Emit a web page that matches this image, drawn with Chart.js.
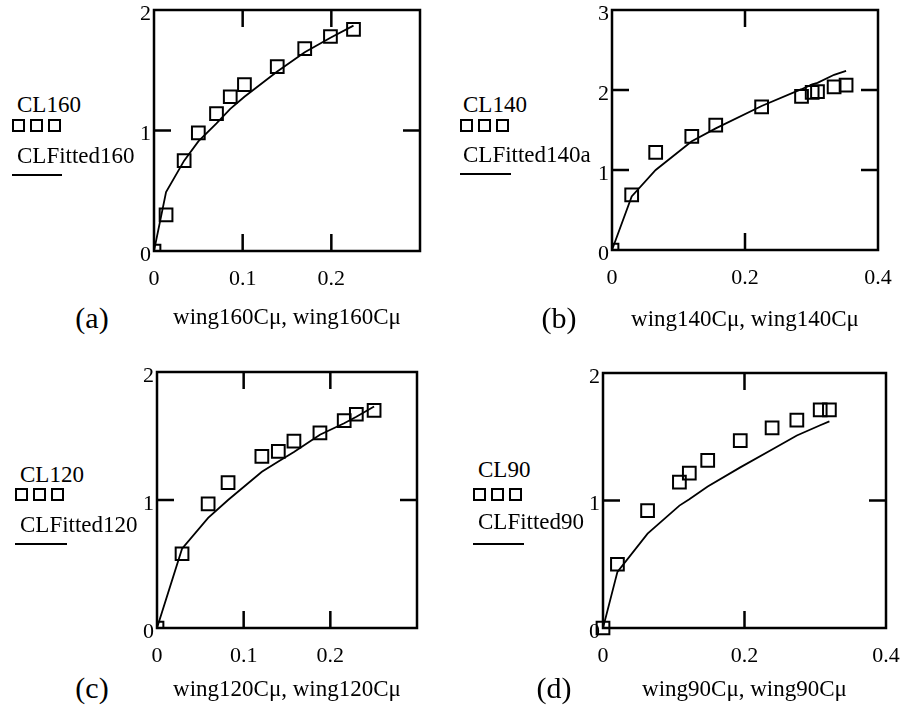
<!DOCTYPE html>
<html>
<head>
<meta charset="utf-8">
<script src="https://cdn.jsdelivr.net/npm/chart.js@4.4.1/dist/chart.umd.min.js"></script>
<style>
  html, body { margin: 0; padding: 0; background: #fff; }
  body { width: 909px; height: 708px; position: relative; overflow: hidden; font-family: "Liberation Serif", "Times New Roman", serif; color: #000; }
  canvas { position: absolute; }
  .txt { position: absolute; font-size: 23px; line-height: 23px; white-space: nowrap; }
  .lbl { position: absolute; font-size: 30px; line-height: 30px; white-space: nowrap; transform: translate(-50%, -50%); }
  .sq { position: absolute; width: 9px; height: 9px; border: 2px solid #000; }
  .ln { position: absolute; height: 0; border-top: 2px solid #000; }
</style>
</head>
<body>
<script>
// ---------- DATA ----------
// (a)
const wing160Cmu  = [0, 0.0136, 0.034, 0.050, 0.0705, 0.086, 0.102, 0.139, 0.170, 0.199, 0.225];
const CL160       = [0, 0.30, 0.75, 0.98, 1.14, 1.28, 1.38, 1.53, 1.68, 1.78, 1.84];
const CLFitted160 = [0, 0.49, 0.75, 0.91, 1.06, 1.18, 1.28, 1.49, 1.65, 1.77, 1.87];
// (b)
const wing140Cmu   = [0, 0.0296, 0.0657, 0.120, 0.156, 0.225, 0.285, 0.301, 0.309, 0.334, 0.352];
const CL140        = [0, 0.69, 1.22, 1.42, 1.56, 1.79, 1.92, 1.97, 1.98, 2.04, 2.06];
const CLFitted140a = [0, 0.67, 1.00, 1.36, 1.52, 1.80, 2.01, 2.07, 2.09, 2.19, 2.24];
// (c)
const wing120Cmu  = [0, 0.0289, 0.059, 0.082, 0.121, 0.140, 0.158, 0.188, 0.216, 0.230, 0.2505];
const CL120       = [0, 0.58, 0.97, 1.135, 1.34, 1.38, 1.46, 1.525, 1.62, 1.67, 1.70];
const CLFitted120 = [0, 0.62, 0.86, 1.00, 1.22, 1.30, 1.375, 1.51, 1.60, 1.65, 1.73];
// (d)
const wing90Cmu  = [0, 0.0204, 0.063, 0.108, 0.122, 0.148, 0.194, 0.239, 0.274, 0.307, 0.320];
const CL90       = [0, 0.50, 0.92, 1.145, 1.215, 1.315, 1.47, 1.57, 1.63, 1.71, 1.71];
const CLFitted90 = [0, 0.44, 0.74, 0.96, 1.01, 1.11, 1.26, 1.40, 1.51, 1.59, 1.62];

// axis tick values
const xTicksA = [0, 0.1, 0.2];  const yTicksA = [0, 1, 2];
const xTicksB = [0, 0.2, 0.4];  const yTicksB = [0, 1, 2, 3];
const xTicksC = [0, 0.1, 0.2];  const yTicksC = [0, 1, 2];
const xTicksD = [0, 0.2, 0.4];  const yTicksD = [0, 1, 2];

const xTitleA = 'wing160C\u03bc, wing160C\u03bc';
const xTitleB = 'wing140C\u03bc, wing140C\u03bc';
const xTitleC = 'wing120C\u03bc, wing120C\u03bc';
const xTitleD = 'wing90C\u03bc, wing90C\u03bc';

// ---------- RENDER ----------
Chart.defaults.font.family = '"Liberation Serif", "Times New Roman", serif';
Chart.defaults.font.size = 22;
Chart.defaults.color = '#000';

const frameTicks = {
  id: 'frameTicks',
  afterDatasetsDraw(chart, args, opts) {
    const {ctx, chartArea: a, scales: {x, y}} = chart;
    ctx.save();
    ctx.strokeStyle = '#000';
    ctx.lineWidth = 2.5;
    ctx.strokeRect(a.left, a.top, a.right - a.left, a.bottom - a.top);
    const L = 17;
    ctx.beginPath();
    (opts.xInner || []).forEach(v => {
      const px = x.getPixelForValue(v);
      ctx.moveTo(px, a.bottom); ctx.lineTo(px, a.bottom - L);
      ctx.moveTo(px, a.top); ctx.lineTo(px, a.top + L);
    });
    (opts.yInner || []).forEach(v => {
      const py = y.getPixelForValue(v);
      ctx.moveTo(a.left, py); ctx.lineTo(a.left + L, py);
      ctx.moveTo(a.right, py); ctx.lineTo(a.right - L, py);
    });
    ctx.stroke();
    ctx.restore();
  }
};

function makePanel(p) {
  const padL = 10, padT = 20, padR = 32, padB = 4, yW = 30;
  const left = p.L - padL - yW;
  const top = p.T - padT;
  const w = p.R - left + padR;
  const h = p.B - top + p.titleH + padB;
  const cv = document.createElement('canvas');
  cv.width = w; cv.height = h;
  cv.style.left = left + 'px'; cv.style.top = top + 'px';
  cv.style.width = w + 'px'; cv.style.height = h + 'px';
  document.body.appendChild(cv);
  const xMax = p.xMax, yMax = p.yMax;
  new Chart(cv, {
    type: 'scatter',
    data: {
      datasets: [
        {
          label: p.fitName,
          data: p.xs.map((v, i) => ({x: v, y: p.fit[i]})),
          showLine: true, borderColor: '#000', borderWidth: 1.8,
          pointRadius: 0, fill: false, tension: 0
        },
        {
          label: p.dataName,
          data: p.xs.map((v, i) => ({x: v, y: p.ys[i]})),
          showLine: false, pointStyle: 'rect', pointRadius: 9,
          pointBorderWidth: 2, pointBorderColor: '#000', pointBackgroundColor: 'rgba(0,0,0,0)',
          clip: p.clipPts
        }
      ]
    },
    options: {
      responsive: false, animation: false, devicePixelRatio: 1, events: [],
      layout: { padding: { left: padL, top: padT, right: padR, bottom: padB } },
      plugins: { legend: { display: false }, tooltip: { enabled: false },
        frameTicks: { xInner: p.xInner, yInner: p.yInner } },
      scales: {
        x: {
          type: 'linear', min: 0, max: xMax,
          afterBuildTicks: s => { s.ticks = p.xTicks.concat(p.xTicks[p.xTicks.length-1] < xMax - 1e-9 ? [xMax] : []).map(v => ({value: v})); },
          ticks: { autoSkip: false, maxRotation: 0, padding: 15,
            callback: v => (p.xTicks.some(t => Math.abs(t - v) < 1e-9) ? String(Math.round(v * 10) / 10) : '') },
          grid: { display: false, drawTicks: false },
          border: { display: false },
          title: { display: true, text: p.xTitle, font: { size: 23 }, padding: 0 },
          afterFit: s => { s.height = p.titleH; }
        },
        y: {
          type: 'linear', min: 0, max: yMax,
          afterBuildTicks: s => { s.ticks = p.yTicks.map(v => ({value: v})); },
          ticks: { autoSkip: false, padding: 3, labelOffset: 4, callback: v => String(v) },
          grid: { display: false, drawTicks: false },
          border: { display: false },
          afterFit: s => { s.width = yW; }
        }
      }
    },
    plugins: [frameTicks]
  });
}

function addText(cls, text, x, y) {
  const d = document.createElement('div');
  d.className = cls; d.textContent = text;
  d.style.left = x + 'px'; d.style.top = y + 'px';
  document.body.appendChild(d);
}
function addLegend(x, nameTop, sqX, sqCY, fitTop, lnX, lnW, lnY, dataName, fitName) {
  addText('txt', dataName, x, nameTop);
  for (let i = 0; i < 3; i++) {
    const s = document.createElement('div');
    s.className = 'sq';
    s.style.left = (sqX + i * 18) + 'px';
    s.style.top = (sqCY - 6.5) + 'px';
    document.body.appendChild(s);
  }
  addText('txt', fitName, x, fitTop);
  const l = document.createElement('div');
  l.className = 'ln';
  l.style.left = lnX + 'px'; l.style.top = (lnY - 1) + 'px'; l.style.width = lnW + 'px';
  document.body.appendChild(l);
}

makePanel({ L: 154, T: 10, R: 420, B: 251, titleH: 81, xMax: 0.3, yMax: 2,
  xs: wing160Cmu, ys: CL160, fit: CLFitted160, dataName: 'CL160', fitName: 'CLFitted160',
  xTicks: xTicksA, yTicks: yTicksA, xInner: [0.1, 0.2], yInner: [1], xTitle: xTitleA, clipPts: 1 });
makePanel({ L: 612, T: 10, R: 878, B: 250, titleH: 84, xMax: 0.4, yMax: 3,
  xs: wing140Cmu, ys: CL140, fit: CLFitted140a, dataName: 'CL140', fitName: 'CLFitted140a',
  xTicks: xTicksB, yTicks: yTicksB, xInner: [0.2], yInner: [1, 2], xTitle: xTitleB, clipPts: 1 });
makePanel({ L: 157, T: 372, R: 417, B: 628, titleH: 76, xMax: 0.3, yMax: 2,
  xs: wing120Cmu, ys: CL120, fit: CLFitted120, dataName: 'CL120', fitName: 'CLFitted120',
  xTicks: xTicksC, yTicks: yTicksC, xInner: [0.1, 0.2], yInner: [1], xTitle: xTitleC, clipPts: 1 });
makePanel({ L: 603, T: 373, R: 886, B: 628, titleH: 76, xMax: 0.4, yMax: 2,
  xs: wing90Cmu, ys: CL90, fit: CLFitted90, dataName: 'CL90', fitName: 'CLFitted90',
  xTicks: xTicksD, yTicks: yTicksD, xInner: [0.2], yInner: [1], xTitle: xTitleD, clipPts: false });

addLegend(17, 93, 12, 125, 144, 12, 50, 175, 'CL160', 'CLFitted160');
addLegend(463, 93, 460, 125, 143, 460, 51, 174, 'CL140', 'CLFitted140a');
addLegend(20, 463, 15, 494, 513, 15, 52, 544, 'CL120', 'CLFitted120');
addLegend(478, 458, 473, 494, 510, 473, 51, 544, 'CL90', 'CLFitted90');

addText('lbl', '(a)', 92, 318);
addText('lbl', '(b)', 559, 318);
addText('lbl', '(c)', 92, 688);
addText('lbl', '(d)', 554, 688);
</script>
</body>
</html>
